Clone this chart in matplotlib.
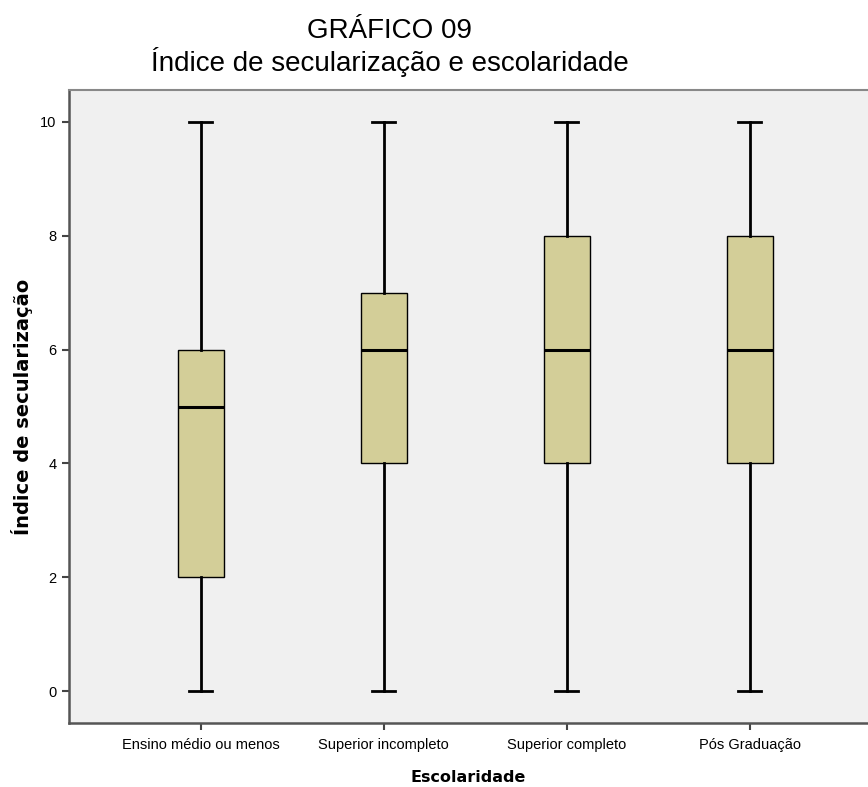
import matplotlib
matplotlib.use("Agg")
import matplotlib.pyplot as plt

plt.rcParams['font.family'] = ['Liberation Sans', 'DejaVu Sans']

categories = ["Ensino médio ou menos", "Superior incompleto", "Superior completo", "Pós Graduação"]
mins = [0, 0, 0, 0]
q1s = [2, 4, 4, 4]
medians = [5, 6, 6, 6]
q3s = [6, 7, 8, 8]
maxs = [10, 10, 10, 10]
yticks = [0, 2, 4, 6, 8, 10]

stats = []
for lab, lo, q1, med, q3, hi in zip(categories, mins, q1s, medians, q3s, maxs):
    stats.append({"label": lab, "whislo": lo, "q1": q1, "med": med, "q3": q3, "whishi": hi})

fig = plt.figure(figsize=(8.68, 7.87), dpi=100)
ax = fig.add_axes([0.0795, 0.0813, 0.9205, 0.8043])
ax.set_facecolor("#F0F0F0")

ax.bxp(stats, positions=range(len(categories)), widths=0.25, patch_artist=True,
       showfliers=False,
       boxprops=dict(facecolor="#D3CE98", edgecolor="black", linewidth=1),
       medianprops=dict(color="black", linewidth=2.2),
       whiskerprops=dict(color="black", linewidth=2),
       capprops=dict(color="black", linewidth=2))

ax.set_xlim(-0.72, 3.645)
ax.set_ylim(-0.56, 10.56)
ax.set_yticks(yticks)
ax.set_yticklabels([str(v) for v in yticks], fontsize=10.5)
ax.set_xticks(range(len(categories)))
ax.set_xticklabels(categories, fontsize=10.5)
ax.tick_params(direction="out", length=5, width=1.5, color="#444444", pad=4)
ax.tick_params(axis="x", pad=6)

for s in ["left", "bottom"]:
    ax.spines[s].set_color("#555555")
    ax.spines[s].set_linewidth(1.8)
ax.spines["top"].set_color("#888888")
ax.spines["top"].set_linewidth(1.5)
ax.spines["right"].set_visible(False)

ax.set_xlabel("Escolaridade", fontsize=11.5, fontweight="bold", labelpad=13,
              family="DejaVu Sans")
ax.set_ylabel("Índice de secularização", fontsize=14, fontweight="bold", labelpad=5,
              family="DejaVu Sans")

fig.text(0.449, 0.961, "GRÁFICO 09", ha="center", va="center", fontsize=20)
fig.text(0.449, 0.921, "Índice de secularização e escolaridade", ha="center", va="center", fontsize=20)

fig.savefig("out.png", dpi=100)
